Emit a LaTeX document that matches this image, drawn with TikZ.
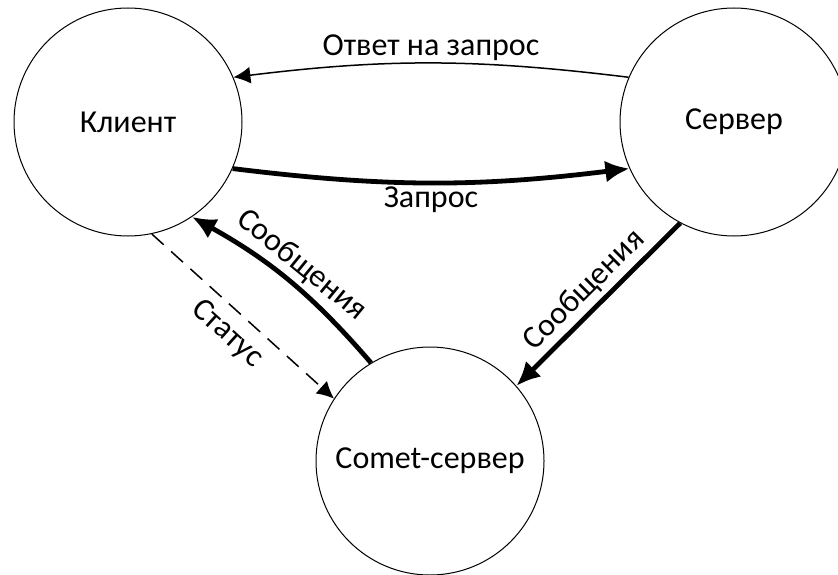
\documentclass[tikz,border=0pt]{standalone}
\usepackage{fontspec}
\setmainfont{Carlito}
\usetikzlibrary{arrows.meta}
\tikzset{
  state/.style={draw,circle,line width=0.5pt,inner sep=0pt,minimum size=114pt,font=\fontsize{16}{18}\selectfont},
  thinarr/.style={line width=0.75pt,-{Latex[length=8.5pt,width=8.5pt]}},
  thickarr/.style={line width=2.4pt,-{Latex[length=12pt,width=11pt]}},
  lbl/.style={font=\fontsize{16}{18}\selectfont,inner sep=1pt}
}
\begin{document}
\begin{tikzpicture}[x=0.5pt,y=0.5pt]
\useasboundingbox (0,0) rectangle (838,574);
\node[state] (client) at (128,452) {Клиент};
\node[state] (server) at (734,452) {Сервер};
\node[state] (comet) at (430,113) {Comet-сервер};
% запрос и ответ
\draw[thinarr] (server.157) to[bend right=7] node[lbl,above] {Ответ на запрос} (client.23);
\draw[thickarr] (client.-24) to[bend right=7] node[lbl,below] {Запрос} (server.-156);
% сообщения
\draw[thickarr] (comet.121) to[bend right=10] node[lbl,sloped,above=1pt] {Сообщения} (client.-56);
\draw[thickarr] (server.242) -- node[lbl,sloped,above=1pt] {Сообщения} (comet.41);
% статус
\draw[thinarr,dash pattern=on 8pt off 5pt] (client.-78) -- node[lbl,sloped,below=4pt] {Статус} (comet.147);
\end{tikzpicture}
\end{document}
